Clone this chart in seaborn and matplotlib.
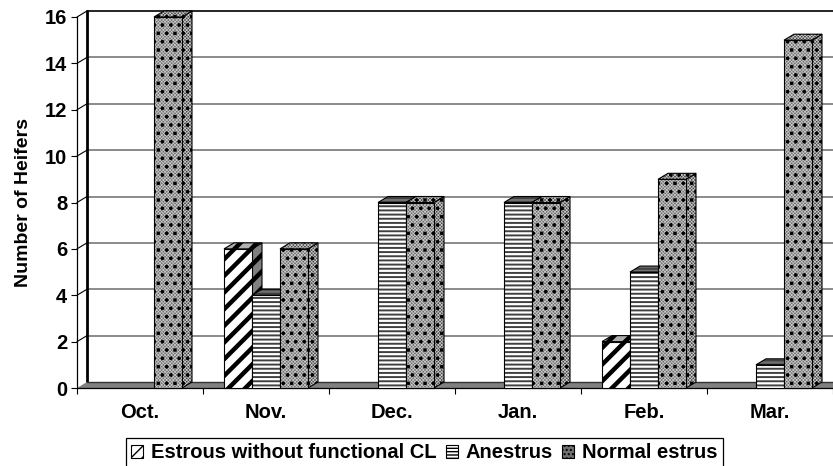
import numpy as np
import pandas as pd
import matplotlib
matplotlib.use("Agg")
import matplotlib.pyplot as plt
from matplotlib.patches import Polygon, Patch
import seaborn as sns

months = ["Oct.", "Nov.", "Dec.", "Jan.", "Feb.", "Mar."]
series_names = ["Estrous without functional CL", "Anestrus", "Normal estrus"]
estrous_no_cl = [0, 6, 0, 0, 2, 0]
anestrus = [0, 4, 8, 8, 5, 1]
normal_estrus = [16, 6, 8, 8, 9, 15]
y_ticks = [0, 2, 4, 6, 8, 10, 12, 14, 16]

sns.set_theme(style="white")
plt.rcParams["font.family"] = ["Liberation Sans", "DejaVu Sans"]
plt.rcParams["font.weight"] = "bold"

W, H = 833, 466
L, R, T, B = 77, 833, 17, 388
DX_PX, DY_PX = 10, 6

fig = plt.figure(figsize=(W / 100, H / 100), dpi=100)
ax = fig.add_axes([L / W, 1 - B / H, (R - L) / W, (B - T) / H])

df = pd.DataFrame({
    "month": months * 3,
    "series": sum([[n] * 6 for n in series_names], []),
    "value": estrous_no_cl + anestrus + normal_estrus,
})
sns.barplot(data=df, x="month", y="value", hue="series", hue_order=series_names,
            order=months, width=2 / 3, gap=0, legend=False, ax=ax)
ax.set_xlim(-0.5, 5.5)
ax.set_ylim(0, 16)

dx = DX_PX / ((R - L) / 6)
dy = DY_PX / ((B - T) / 16)

styles = [
    dict(front="white", top="#b0b0b0", side="#808080", hatch="//", hlw=3.2, ec="black", mesh=False),
    dict(front="white", top="#707070", side="#606060", hatch="----", hlw=1.4, ec="#404040", mesh=False),
    dict(front="#6e6e6e", top="#484848", side="#484848", hatch="..", hlw=1.4, ec="black", mesh=True),
]


def face(points, st, z):
    patch = Polygon(points, closed=True, facecolor=st["fc"], edgecolor=st["ec"], linewidth=0,
                    hatch=st["hatch"], zorder=z, clip_on=False)
    patch.set_hatch_linewidth(st["hlw"])
    ax.add_patch(patch)
    if st["mesh"]:
        m = Polygon(points, closed=True, fill=False, edgecolor="#c8c8c8", linewidth=0,
                    hatch="xxxxxxxxxx", zorder=z - 0.05, clip_on=False)
        m.set_hatch_linewidth(0.5)
        ax.add_patch(m)
        patch.set_zorder(z - 0.06)
        dots = Polygon(points, closed=True, fill=False, edgecolor="black", linewidth=0,
                       hatch=st["hatch"], zorder=z, clip_on=False)
        dots.set_hatch_linewidth(st["hlw"])
        ax.add_patch(dots)
    ax.add_patch(Polygon(points, closed=True, fill=False, edgecolor="black",
                         linewidth=0.8, zorder=z + 0.05, clip_on=False))


for i, (cont, st) in enumerate(zip(ax.containers, styles)):
    z = 5 + i
    for bar in cont:
        h = bar.get_height()
        bar.set_visible(False)
        if h <= 0:
            continue
        x0, x1 = bar.get_x(), bar.get_x() + bar.get_width()
        face([(x1, 0), (x1 + dx, dy), (x1 + dx, h + dy), (x1, h)], {**st, "fc": st["side"]}, z + 0.1)
        face([(x0, h), (x1, h), (x1 + dx, h + dy), (x0 + dx, h + dy)], {**st, "fc": st["top"]}, z + 0.2)
        face([(x0, 0), (x1, 0), (x1, h), (x0, h)], {**st, "fc": st["front"]}, z + 0.3)

# back wall, side wall gridlines and floor
x_left, x_right = ax.get_xlim()
for v in y_ticks[1:]:
    color = "black" if v == y_ticks[-1] else "#777777"
    ax.plot([x_left + dx, x_right], [v + dy, v + dy], color=color, lw=1.2, zorder=1, clip_on=False)
    ax.plot([x_left, x_left + dx], [v, v + dy], color="black", lw=0.8, zorder=1, clip_on=False)
ax.plot([x_left + dx, x_left + dx], [dy, y_ticks[-1] + dy], color="black", lw=2, zorder=2, clip_on=False)
ax.add_patch(Polygon([(x_left, 0), (x_right, 0), (x_right, dy), (x_left + dx, dy)], closed=True,
                     facecolor="#808080", edgecolor="none", zorder=2, clip_on=False))
ax.plot([x_left + dx, x_right], [dy, dy], color="#333333", lw=1, zorder=2.5, clip_on=False)

for s in ["top", "right"]:
    ax.spines[s].set_visible(False)
for s in ["left", "bottom"]:
    ax.spines[s].set_color("black")
    ax.spines[s].set_linewidth(0.9)
    ax.spines[s].set_zorder(3)

ax.set_yticks(y_ticks)
ax.set_xticks(np.arange(-0.5, 6, 1))
ax.set_xticklabels([])
ax.set_xticks(np.arange(6), labels=months, minor=True)
ax.tick_params(axis="x", which="major", length=4, width=0.8, color="black", bottom=True)
ax.tick_params(axis="x", which="minor", length=0, pad=11, labelsize=14.5, labelcolor="black")
ax.tick_params(axis="y", length=4, width=0.8, color="black", left=True, pad=3, labelsize=14.5, labelcolor="black")
for t in ax.get_xticklabels(minor=True) + ax.get_yticklabels():
    t.set_fontweight("bold")
ax.set_xlabel("")
ax.set_ylabel("Number of Heifers", fontsize=14, fontweight="bold", color="black", labelpad=9)

handles = [
    Patch(facecolor="white", edgecolor="black", hatch="///", linewidth=0.8),
    Patch(facecolor="white", edgecolor="black", hatch="-----", linewidth=0.8),
    Patch(facecolor="#707070", edgecolor="black", hatch="....", linewidth=0.8),
]
for hd in handles:
    hd.set_hatch_linewidth(1.0)
leg = fig.legend(handles, series_names, loc="center", bbox_to_anchor=(424.5 / W, 1 - 453 / H),
                 ncol=3, frameon=True, fancybox=False, framealpha=1, edgecolor="black",
                 prop={"size": 14.5, "weight": "bold", "family": "Liberation Sans"},
                 handlelength=0.6, handleheight=0.6, handletextpad=0.4, columnspacing=0.45,
                 borderpad=0.25, borderaxespad=0)
leg.get_frame().set_linewidth(0.9)
for t in leg.get_texts():
    t.set_color("black")

fig.savefig("out.png", dpi=100)
